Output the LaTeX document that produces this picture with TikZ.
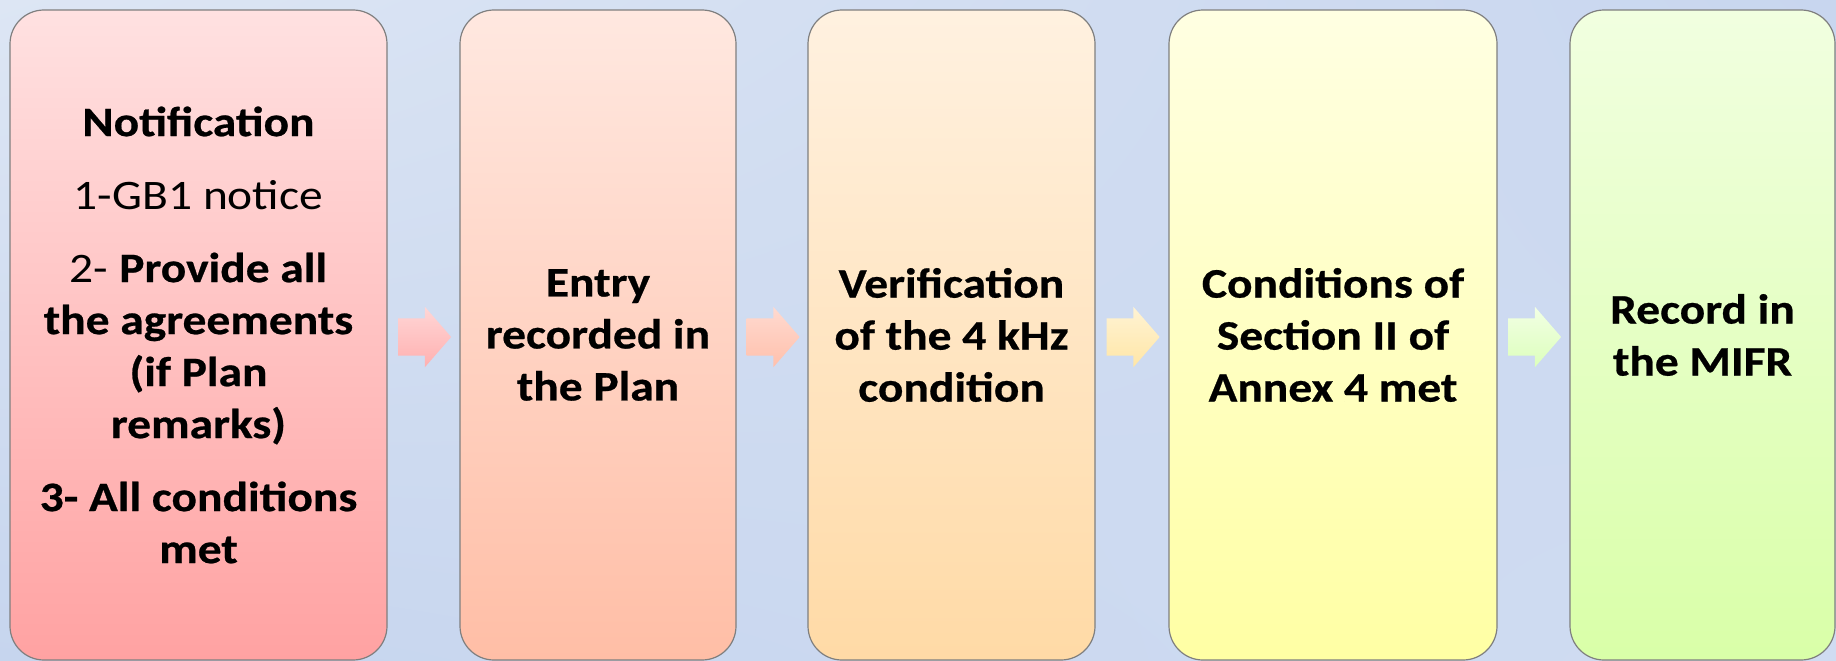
\documentclass[tikz,border=0pt]{standalone}
\usepackage{fontspec}
\setmainfont{Carlito}[FakeStretch=1.13, BoldFeatures={FakeStretch=1.13, FakeBold=0.6}]
\usetikzlibrary{shapes.arrows,calc,shadings}
\definecolor{bgA}{HTML}{DDE6F4}
\definecolor{bgB}{HTML}{C6D5EE}
\definecolor{bgC}{HTML}{C8D6EF}
\definecolor{bgD}{HTML}{D0DCF2}
\definecolor{b1t}{HTML}{FFE1E1}
\definecolor{b1b}{HTML}{FFA2A2}
\definecolor{b2t}{HTML}{FFE8E0}
\definecolor{b2b}{HTML}{FFBEA6}
\definecolor{b3t}{HTML}{FFF1E0}
\definecolor{b3b}{HTML}{FFDAA6}
\definecolor{b4t}{HTML}{FFFFE2}
\definecolor{b4b}{HTML}{FFFFA4}
\definecolor{b5t}{HTML}{F1FFE0}
\definecolor{b5b}{HTML}{D9FFA8}
\definecolor{a1t}{HTML}{FFD6D6}
\definecolor{a1b}{HTML}{FFB0B0}
\definecolor{a2t}{HTML}{FFDAD0}
\definecolor{a2b}{HTML}{FFC0AC}
\definecolor{a3t}{HTML}{FFF3D4}
\definecolor{a3b}{HTML}{FFE6A6}
\definecolor{a4t}{HTML}{F2FFE4}
\definecolor{a4b}{HTML}{DCFFBC}
\definecolor{edge}{HTML}{7F7F7F}
\tikzset{
  box/.style={rectangle, rounded corners=34pt, draw=edge, line width=1.2pt,
    inner sep=0pt, align=center, font=\fontsize{42}{52}\selectfont,
    minimum height=650pt},
  blockarrow/.style={single arrow, draw=none, minimum height=53pt, minimum width=60pt,
    inner xsep=0pt, inner ysep=18.5pt, single arrow head extend=11.5pt,
    single arrow tip angle=98}
}
\begin{document}
\begin{tikzpicture}[x=1pt,y=-1pt]
\useasboundingbox (0,0) rectangle (1836,661);
\shade[upper left=bgA, upper right=bgC, lower left=bgB, lower right=bgD] (0,0) rectangle (1836,661);
\node[box, minimum width=377pt, top color=b1t, bottom color=b1b] (b1) at (198.5,335) {%
\textbf{Notification}\\[21pt]
1-GB1 notice\\[21pt]
2- \textbf{Provide all}\\
\textbf{the agreements}\\
\textbf{(if Plan}\\
\textbf{remarks)}\\[21pt]
\textbf{3- All conditions}\\
\textbf{met}};
\node[box, minimum width=276pt, top color=b2t, bottom color=b2b] (b2) at (598,335) {%
\textbf{Entry}\\ \textbf{recorded in}\\ \textbf{the Plan}};
\node[box, minimum width=287pt, top color=b3t, bottom color=b3b] (b3) at (951.5,335) {%
\textbf{Verification}\\ \textbf{of the 4 kHz}\\ \textbf{condition}};
\node[box, minimum width=328pt, top color=b4t, bottom color=b4b] (b4) at (1333,335) {%
\textbf{Conditions of}\\ \textbf{Section II of}\\ \textbf{Annex 4 met}};
\node[box, minimum width=265pt, top color=b5t, bottom color=b5b] (b5) at (1702.5,335) {%
\textbf{Record in}\\ \textbf{the MIFR}};
\node[blockarrow, top color=a1t, bottom color=a1b] (a1) at ($(b1.east)!0.5!(b2.west)+(-7,2)$) {};
\node[blockarrow, top color=a2t, bottom color=a2b] (a2) at ($(b2.east)!0.5!(b3.west)+(-7,2)$) {};
\node[blockarrow, top color=a3t, bottom color=a3b] (a3) at ($(b3.east)!0.5!(b4.west)+(-7,2)$) {};
\node[blockarrow, top color=a4t, bottom color=a4b] (a4) at ($(b4.east)!0.5!(b5.west)+(-7,2)$) {};
\end{tikzpicture}
\end{document}
